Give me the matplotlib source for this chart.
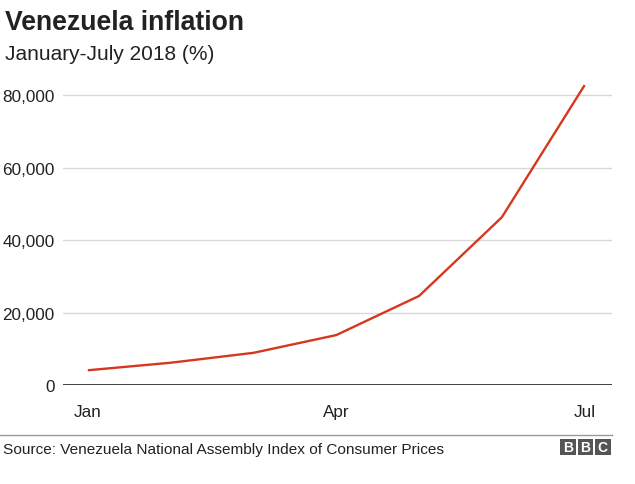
import matplotlib
matplotlib.use("Agg")
import matplotlib.pyplot as plt
from matplotlib.patches import Rectangle

months = ["Jan", "Feb", "Mar", "Apr", "May", "Jun", "Jul"]
inflation = [4068, 6147, 8878, 13779, 24571, 46305, 82766]
yticks = [0, 20000, 40000, 60000, 80000]
xtick_pos = [0, 3, 6]
xtick_labels = ["Jan", "Apr", "Jul"]

plt.rcParams['font.family'] = ['Liberation Sans', 'DejaVu Sans']
fig = plt.figure(figsize=(6.35, 4.85), dpi=100)
ax = fig.add_axes([0.0992, 0.2041, 0.8646, 0.6351])

x = list(range(len(months)))
ax.plot(x, inflation, color='#d6371f', lw=1.7, solid_capstyle='butt', zorder=3)
ax.set_xlim(-0.3, 6.33)
ax.set_ylim(0, 85000)
ax.set_yticks(yticks)
ax.set_yticklabels([f"{v:,}" for v in yticks], fontsize=12.3, color='#222222')
ax.set_xticks(xtick_pos)
ax.set_xticklabels(xtick_labels, fontsize=12.3, color='#222222')
ax.tick_params(axis='both', length=0)
ax.tick_params(axis='y', pad=6)
ax.tick_params(axis='x', pad=14)
for v in yticks[1:]:
    ax.axhline(v, color='#d9d9d9', lw=1, zorder=1)
ax.axhline(0, color='#333333', lw=1.3, zorder=2)
for s in ax.spines.values():
    s.set_visible(False)

fig.text(5/635, 1 - 30/485, "Venezuela inflation", fontsize=19.2, fontweight='bold',
         color='#222222', va='baseline')
fig.text(5/635, 1 - 60/485, "January-July 2018 (%)", fontsize=15, color='#222222',
         va='baseline')

fig.add_artist(plt.Line2D([0, 612/635], [1 - 436/485, 1 - 436/485],
                          color='#999999', lw=1, transform=fig.transFigure))
fig.text(3/635, 1 - 454/485, "Source: Venezuela National Assembly Index of Consumer Prices",
         fontsize=11.1, color='#222222', va='baseline')

# BBC logo
for i, letter in enumerate("BBC"):
    x0 = 560 + i * 17.5
    fig.add_artist(Rectangle((x0/635, 1 - 456/485), 15.5/635, 16/485,
                             transform=fig.transFigure, color='#555555', lw=0))
    fig.text((x0 + 7.75)/635, 1 - 448/485, letter, fontsize=10, fontweight='bold',
             color='white', ha='center', va='center')

fig.savefig("out.png", dpi=100)
